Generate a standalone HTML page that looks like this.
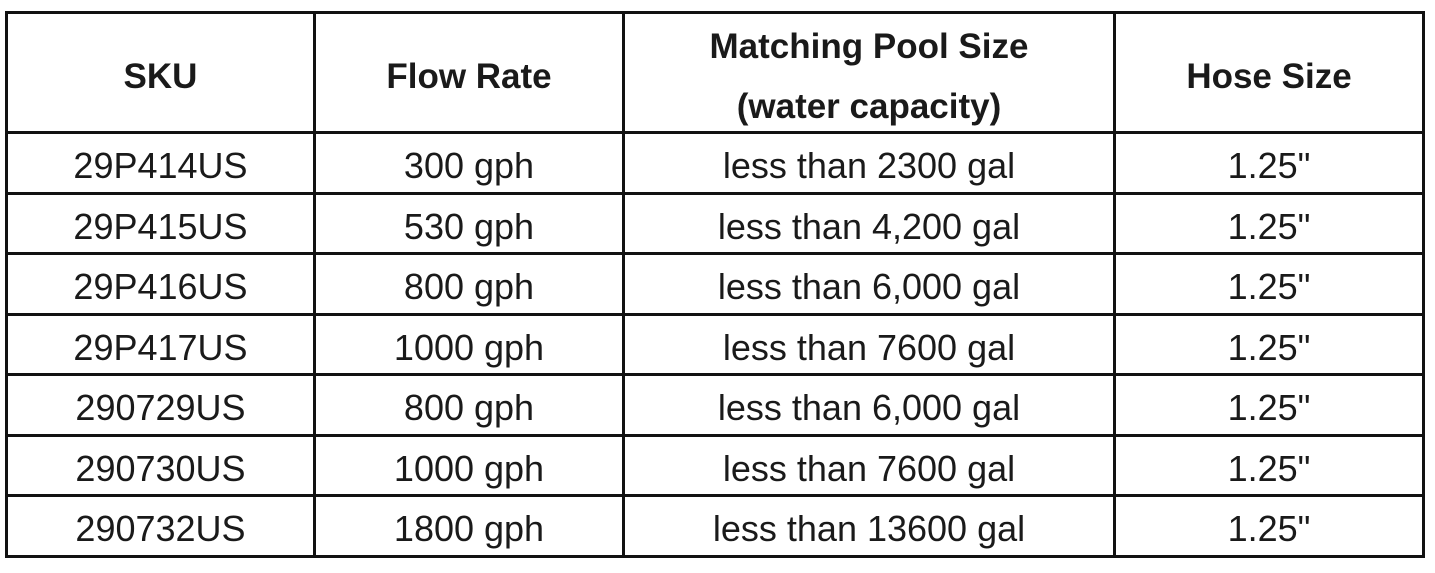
<!DOCTYPE html>
<html><head><style>
body{margin:0;width:1435px;height:573px;background:#fff;position:relative;overflow:hidden;font-family:"Liberation Sans",sans-serif;color:#1a1a1a}
.h,.v{position:absolute;background:#111}
.h{height:3px}.v{width:3px}
.t{position:absolute;text-align:center;font-size:36px;line-height:40px;transform:translateY(-50%);margin-top:2px}
.b{font-weight:bold;font-size:35px}
</style></head><body>
<div class="h" style="left:5px;width:1420px;top:11px"></div>
<div class="h" style="left:5px;width:1420px;top:131px"></div>
<div class="h" style="left:5px;width:1420px;top:192px"></div>
<div class="h" style="left:5px;width:1420px;top:252px"></div>
<div class="h" style="left:5px;width:1420px;top:313px"></div>
<div class="h" style="left:5px;width:1420px;top:373px"></div>
<div class="h" style="left:5px;width:1420px;top:434px"></div>
<div class="h" style="left:5px;width:1420px;top:494px"></div>
<div class="h" style="left:5px;width:1420px;top:555px"></div>
<div class="v" style="left:5px;top:11px;height:547px"></div>
<div class="v" style="left:313px;top:11px;height:547px"></div>
<div class="v" style="left:622px;top:11px;height:547px"></div>
<div class="v" style="left:1113px;top:11px;height:547px"></div>
<div class="v" style="left:1422px;top:11px;height:547px"></div>

<div class="t b" style="left:8px;width:305px;top:75px">SKU</div>
<div class="t b" style="left:316px;width:306px;top:75px">Flow Rate</div>
<div class="t b" style="left:625px;width:488px;top:75px;line-height:60px">Matching Pool Size<br>(water capacity)</div>
<div class="t b" style="left:1116px;width:306px;top:75px">Hose Size</div>

<div class="t" style="left:8px;width:305px;top:164px">29P414US</div>
<div class="t" style="left:316px;width:306px;top:164px">300 gph</div>
<div class="t" style="left:625px;width:488px;top:164px">less than 2300 gal</div>
<div class="t" style="left:1116px;width:306px;top:164px">1.25"</div>

<div class="t" style="left:8px;width:305px;top:225px">29P415US</div>
<div class="t" style="left:316px;width:306px;top:225px">530 gph</div>
<div class="t" style="left:625px;width:488px;top:225px">less than 4,200 gal</div>
<div class="t" style="left:1116px;width:306px;top:225px">1.25"</div>

<div class="t" style="left:8px;width:305px;top:285px">29P416US</div>
<div class="t" style="left:316px;width:306px;top:285px">800 gph</div>
<div class="t" style="left:625px;width:488px;top:285px">less than 6,000 gal</div>
<div class="t" style="left:1116px;width:306px;top:285px">1.25"</div>

<div class="t" style="left:8px;width:305px;top:346px">29P417US</div>
<div class="t" style="left:316px;width:306px;top:346px">1000 gph</div>
<div class="t" style="left:625px;width:488px;top:346px">less than 7600 gal</div>
<div class="t" style="left:1116px;width:306px;top:346px">1.25"</div>

<div class="t" style="left:8px;width:305px;top:406px">290729US</div>
<div class="t" style="left:316px;width:306px;top:406px">800 gph</div>
<div class="t" style="left:625px;width:488px;top:406px">less than 6,000 gal</div>
<div class="t" style="left:1116px;width:306px;top:406px">1.25"</div>

<div class="t" style="left:8px;width:305px;top:467px">290730US</div>
<div class="t" style="left:316px;width:306px;top:467px">1000 gph</div>
<div class="t" style="left:625px;width:488px;top:467px">less than 7600 gal</div>
<div class="t" style="left:1116px;width:306px;top:467px">1.25"</div>

<div class="t" style="left:8px;width:305px;top:527px">290732US</div>
<div class="t" style="left:316px;width:306px;top:527px">1800 gph</div>
<div class="t" style="left:625px;width:488px;top:527px">less than 13600 gal</div>
<div class="t" style="left:1116px;width:306px;top:527px">1.25"</div>
</body></html>
